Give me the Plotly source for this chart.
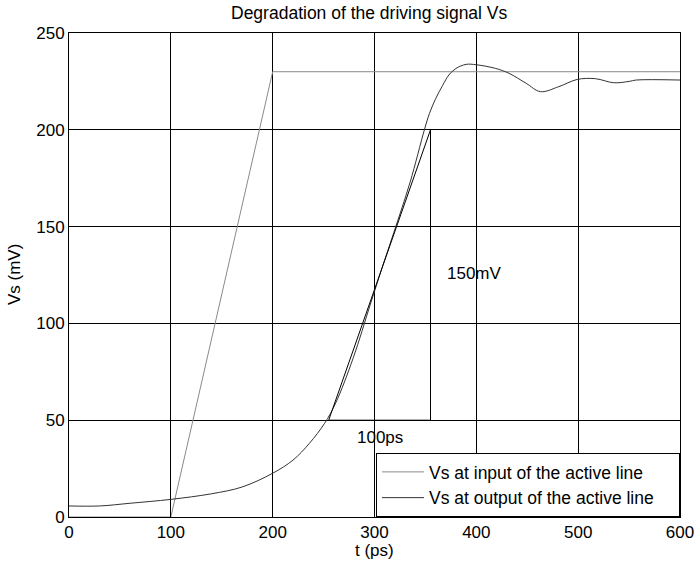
import plotly.graph_objects as go

# Input signal (ramp)
t_in = [0, 100, 200, 600]
v_in = [0, 0, 230, 230]

# Output signal
t_out = [0, 30, 60, 100, 140, 170, 200, 220, 236, 251, 262, 279, 296, 307, 319, 335,
         349, 354, 360, 367, 373, 380, 390, 400, 419, 432, 449, 463, 481, 499, 517,
         535, 550, 557, 600]
v_out = [5.7, 5.7, 7.1, 9.1, 12, 15.5, 22.6, 29.4, 38, 48.4, 59, 82, 110, 128, 147, 173,
         200, 208.5, 216, 223, 228.3, 231.7, 233.8, 233.6, 231.7, 229.2, 224, 219.7, 222.3, 226, 226.4,
         224.3, 225, 225.7, 225.7]

# Rise-time construction (tangent, horizontal and vertical guides)
t_tan = [255, 355]
v_tan = [50, 200]
t_vert = [355, 355]
v_vert = [50, 200]
t_horz = [255, 355]
v_horz = [50, 50]

labels = ["150mV", "100ps"]
label_t = [398, 305]
label_v = [126, 41]

x_ticks = [0, 100, 200, 300, 400, 500, 600]
y_ticks = [0, 50, 100, 150, 200, 250]

FONT = "Liberation Sans, Arial, sans-serif"
PAD = "\u00a0" * 4

fig = go.Figure()
fig.add_trace(go.Scatter(x=t_in, y=v_in, mode="lines", name="Vs at input of the active line" + PAD,
                         line=dict(color="#8a8a8a", width=1)))
fig.add_trace(go.Scatter(x=t_out, y=v_out, mode="lines", name="Vs at output of the active line" + PAD,
                         line=dict(color="#333333", width=1, shape="spline", smoothing=1.0)))
for xs, ys in [(t_tan, v_tan), (t_vert, v_vert), (t_horz, v_horz)]:
    fig.add_trace(go.Scatter(x=xs, y=ys, mode="lines", showlegend=False, hoverinfo="skip",
                             line=dict(color="black", width=1)))

for txt, xt, yt in zip(labels, label_t, label_v):
    fig.add_annotation(x=xt, y=yt, text=txt, showarrow=False,
                       font=dict(size=17, color="black", family=FONT))

# Title and axis titles as paper annotations
fig.add_annotation(xref="paper", yref="paper", x=0.4926, y=1.042, xanchor="center", yanchor="middle",
                   text="Degradation of the driving signal Vs", showarrow=False,
                   font=dict(size=17.5, color="black", family=FONT))
fig.add_annotation(xref="paper", yref="paper", x=0.5, y=-0.0702, xanchor="center", yanchor="middle",
                   text="t (ps)", showarrow=False,
                   font=dict(size=17, color="black", family=FONT))
fig.add_annotation(xref="paper", yref="paper", x=-0.09, y=0.5, xanchor="center", yanchor="middle",
                   text="Vs (mV)", textangle=-90, showarrow=False,
                   font=dict(size=17, color="black", family=FONT))

axis_common = dict(showgrid=True, gridcolor="black", gridwidth=1, showline=True,
                   linecolor="black", linewidth=1, mirror=True, zeroline=False,
                   ticks="inside", ticklen=5, tickcolor="black", automargin=False,
                   tickfont=dict(size=17, color="black", family=FONT))

fig.update_xaxes(range=[0, 600], tickvals=x_ticks, **axis_common)
fig.update_yaxes(range=[0, 250], tickvals=y_ticks, **axis_common)

fig.update_layout(
    width=696, height=571,
    margin=dict(l=69, r=16, t=33, b=54),
    paper_bgcolor="white", plot_bgcolor="white",
    legend=dict(x=1, y=0, xanchor="right", yanchor="bottom", bgcolor="white",
                bordercolor="black", borderwidth=1,
                font=dict(size=17.5, color="black", family=FONT),
                tracegroupgap=0, itemwidth=42),
    showlegend=True,
)

# Remove the default page margin so the figure fills the window exactly
fig.write_html("out.html",
               config={"displayModeBar": False},
               post_script="document.body.style.margin='0px';"
                           "document.documentElement.style.overflow='hidden';")
